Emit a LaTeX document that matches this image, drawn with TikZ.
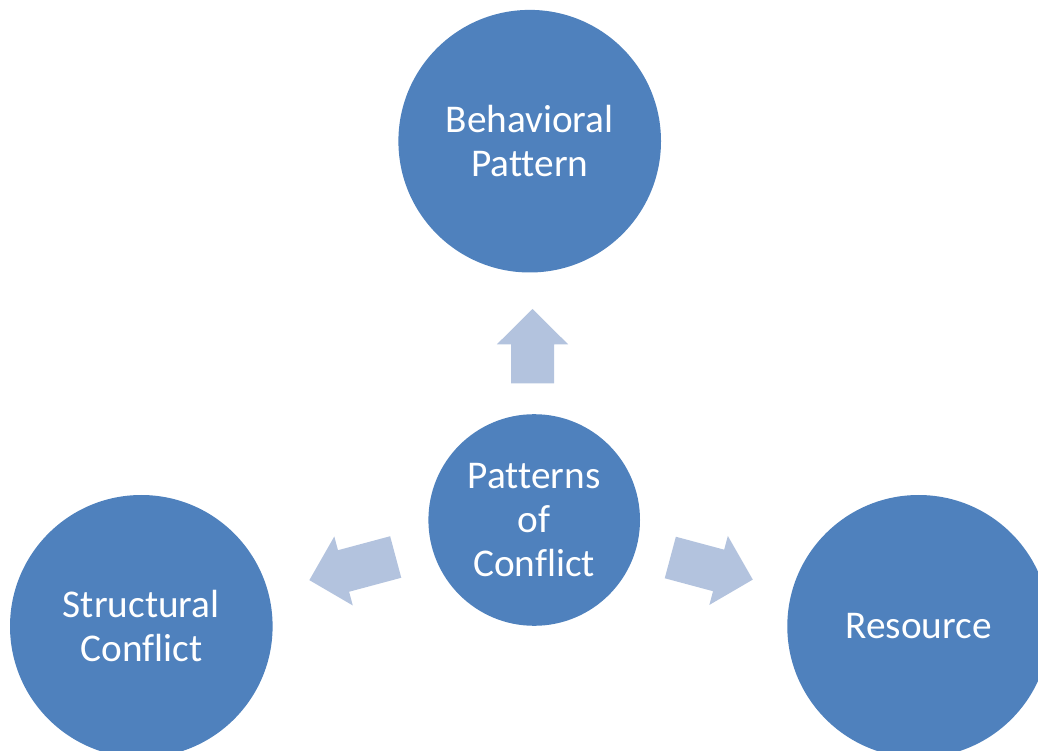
\documentclass[tikz,border=0pt]{standalone}
\usepackage{fontspec}
\setmainfont{Carlito}[Ligatures=NoCommon]
\usepackage{tikz}
\usetikzlibrary{positioning, calc}

\definecolor{bubbleblue}{HTML}{4F81BD}
\definecolor{arrowblue}{HTML}{B3C3DE}

\tikzset{
    bubble/.style={circle, fill=bubbleblue, text=white, inner sep=0pt, align=center,
        font=\fontsize{39.3}{44.3}\selectfont},
    big/.style={minimum size=262.6pt},
    small/.style={minimum size=211.6pt}
}

\begin{document}
\begin{tikzpicture}[x=1pt, y=1pt]
    \useasboundingbox (0,0) rectangle (1038,750);

    \def\shaft{21.5}
    \def\head{35.7}
    \def\headlen{35.4}

    % circles
    \node[bubble, big]   (behav)    at (529.7,608.8) {Behavioral\\Pattern};
    \node[bubble, small] (conflict) at (534.2,230.0) {Patterns\\of\\Conflict};
    \node[bubble, big]   (struct)   at (141.3,123.7) {Structural\\Conflict};
    \node[bubble, big]   (resource) at (918.6,123.7) {Resource};

    % arrow tails
    \coordinate (A1) at (532.5,366.7);
    \coordinate (A2) at (395.7,193.0);
    \coordinate (A3) at (670.3,192.5);

    % block arrows
    \foreach \tail/\ang/\len in {
        A1/90/74.3,
        A2/195/89.4,
        A3/-15/85.4}
    {
        \fill[arrowblue, shift={(\tail)}, rotate=\ang]
            (0,-\shaft) -- (\len-\headlen,-\shaft) -- (\len-\headlen,-\head)
            -- (\len,0) -- (\len-\headlen,\head) -- (\len-\headlen,\shaft)
            -- (0,\shaft) -- cycle;
    }
\end{tikzpicture}
\end{document}
